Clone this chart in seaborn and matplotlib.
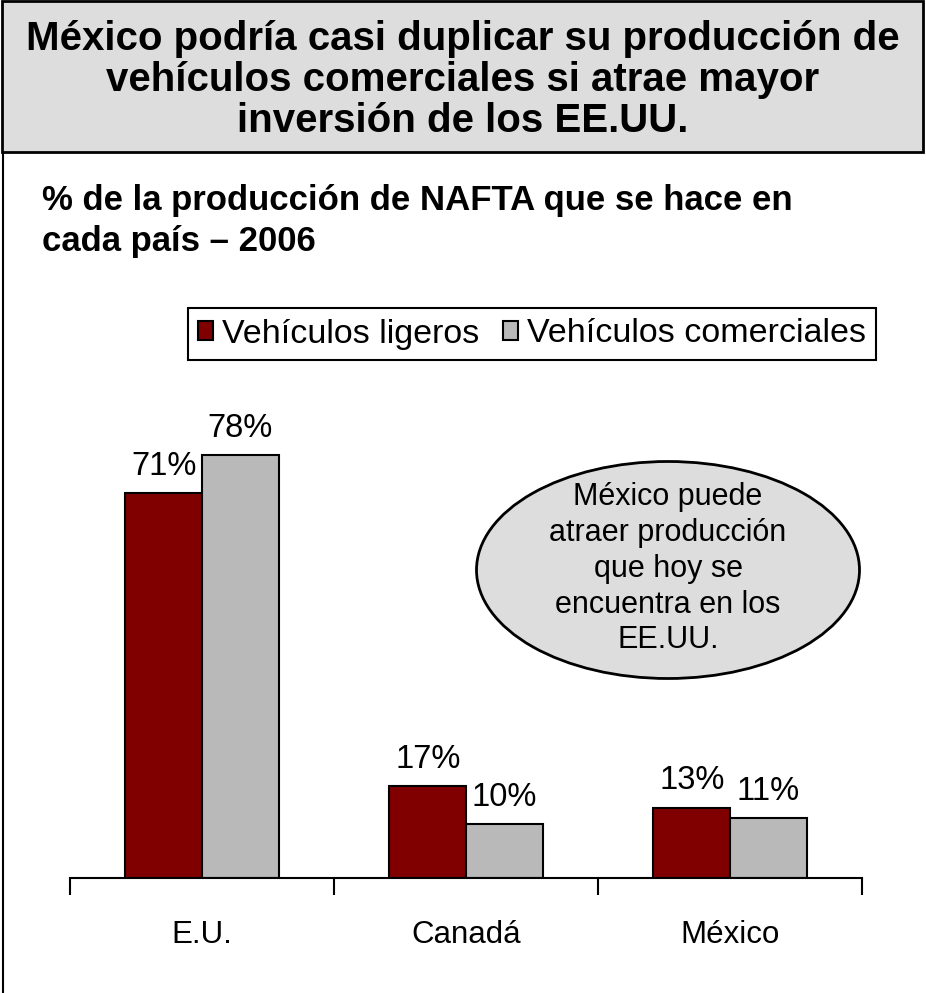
import matplotlib
matplotlib.use("Agg")
import matplotlib.pyplot as plt
from matplotlib.patches import Rectangle, Ellipse, Patch
from matplotlib.lines import Line2D
import seaborn as sns
import pandas as pd

# Data
countries = ["E.U.", "Canadá", "México"]
series = ["Vehículos ligeros", "Vehículos comerciales"]
light_vehicles = [71, 17, 13]
commercial_vehicles = [78, 10, 11]
colors = ["#800000", "#b9b9b9"]

title = ("México podría casi duplicar su producción de\n"
         "vehículos comerciales si atrae mayor\n"
         "inversión de los EE.UU.")
subtitle = "% de la producción de NAFTA que se hace en\ncada país – 2006"
callout = "México puede\natraer producción\nque hoy se\nencuentra en los\nEE.UU."

df = pd.DataFrame({
    "país": countries * 2,
    "serie": [series[0]] * 3 + [series[1]] * 3,
    "valor": light_vehicles + commercial_vehicles,
})

sns.set_theme(style="white")
plt.rcParams["font.family"] = ["Liberation Sans", "DejaVu Sans"]
plt.rcParams["text.color"] = "black"
plt.rcParams["xtick.color"] = "black"
plt.rcParams["xtick.labelcolor"] = "black"

W, H = 926, 993
fig = plt.figure(figsize=(W / 100, H / 100), dpi=100)

def fx(px):
    return px / W

def fy(py):
    return 1 - py / H

# Header box
fig.patches.append(Rectangle((fx(2), fy(152)), fx(921), 152 / H - 0.001,
                             transform=fig.transFigure, facecolor="#dddddd",
                             edgecolor="black", linewidth=2, zorder=0))
fig.text(0.5, fy(80), title, ha="center", va="center", fontsize=29,
         fontweight="bold", linespacing=1.09)
fig.lines.append(Line2D([fx(3), fx(3)], [0, fy(152)], transform=fig.transFigure,
                        color="black", linewidth=1.5))

fig.text(fx(42), fy(221), subtitle, ha="left", va="center", fontsize=25,
         fontweight="bold", linespacing=1.32)

# Bar chart
ax = fig.add_axes([fx(70), 115 / H, 792 / W, 542 / H])
sns.barplot(data=df, x="país", y="valor", hue="serie", hue_order=series,
            palette=colors, width=0.58, edgecolor="black", linewidth=1.5,
            saturation=1, legend=False, ax=ax)
ax.set_xlim(-0.5, 2.5)
ax.set_ylim(0, 100)
for cont in ax.containers:
    ax.bar_label(cont, labels=[f"{v:.0f}%" for v in cont.datavalues],
                 padding=8, fontsize=23.5, color="black")

for side in ["top", "right", "left"]:
    ax.spines[side].set_visible(False)
ax.spines["bottom"].set_linewidth(1.5)
ax.spines["bottom"].set_color("black")
ax.set_yticks([])
ax.set_xlabel("")
ax.set_ylabel("")
ax.tick_params(axis="x", which="major", length=0, labelsize=22.5, pad=30)
ax.set_xticks([-0.5, 0.5, 1.5, 2.5], minor=True)
ax.tick_params(axis="x", which="minor", length=12, width=1.5, color="black",
               direction="out", bottom=True)

# Legend
handles = [Patch(facecolor=c, edgecolor="black", linewidth=1.5) for c in colors]
fig.legend(handles, series, loc="center", bbox_to_anchor=(fx(532), fy(334)),
           ncol=2, fontsize=24.5, frameon=True, fancybox=False, edgecolor="black",
           framealpha=1, handlelength=0.45, handleheight=0.45, handletextpad=0.25,
           columnspacing=0.7, borderpad=0.3, labelcolor="black")
fig.legends[-1].get_frame().set_linewidth(1.5)

# Callout bubble
fig.patches.append(Ellipse((fx(668), fy(570)), fx(383), 217 / H,
                           transform=fig.transFigure, facecolor="#dddddd",
                           edgecolor="black", linewidth=2))
fig.text(fx(668), fy(569), callout, ha="center", va="center", fontsize=22,
         linespacing=1.25)

fig.savefig("out.png", dpi=100, facecolor="white")
